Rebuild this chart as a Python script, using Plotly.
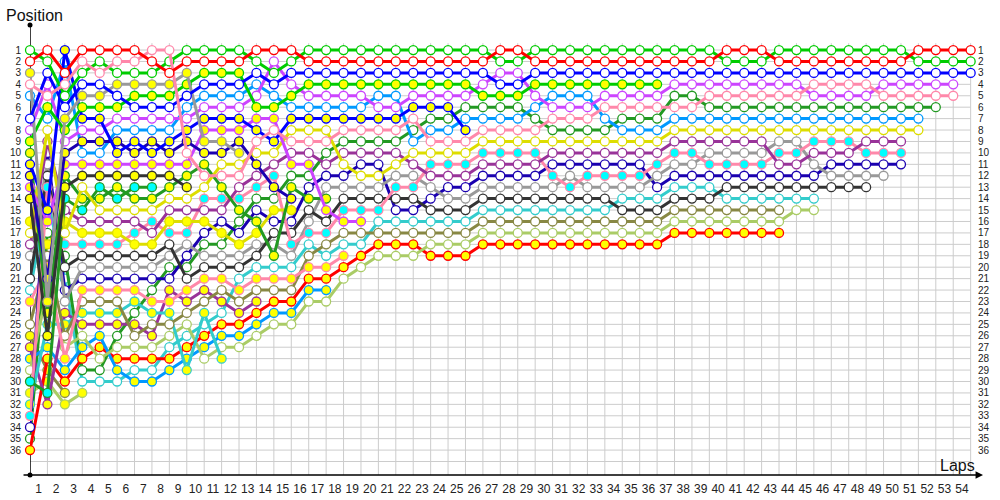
import plotly.graph_objects as go

# ---- driver styling (line colour, marker fill) ----
driver_ids = ["A", "B", "C", "D", "E", "F", "G", "H", "I", "J", "K", "L", "M", "N", "O", "P",
              "Q", "R", "S", "T", "U", "V", "W", "X", "Y", "Z", "AA", "AB", "AC", "AD", "AE", "AF"]
line_color = {
    "A": "#ff0000", "B": "#ff88aa", "C": "#00cc00", "D": "#0000ff", "E": "#999999",
    "F": "#00cc00", "G": "#0000ff", "H": "#cc44ff", "I": "#1a00b0", "J": "#0099ff",
    "K": "#cc44ff", "L": "#333333", "M": "#dddd00", "N": "#229922", "O": "#229922",
    "P": "#993399", "Q": "#dddd00", "R": "#ff88aa", "S": "#333333", "T": "#999999",
    "U": "#1a00b0", "V": "#ff88aa", "W": "#888844", "X": "#33cccc", "Y": "#993399",
    "Z": "#aacc66", "AA": "#0099ff", "AB": "#ff0000", "AC": "#229922", "AD": "#33cccc",
    "AE": "#aacc66", "AF": "#888844",
}
marker_fill = {
    "A": "white", "B": "white", "C": "white", "D": "white", "E": "#ffff00",
    "F": "#ffff00", "G": "#ffff00", "H": "white", "I": "#ffff00", "J": "white",
    "K": "#ffff00", "L": "#ffff00", "M": "white", "N": "#ffff00", "O": "#00ffff",
    "P": "white", "Q": "#ffff00", "R": "#00ffff", "S": "white", "T": "white",
    "U": "white", "V": "#ffff00", "W": "white", "X": "#ffff00", "Y": "#ffff00",
    "Z": "white", "AA": "#ffff00", "AB": "#ffff00", "AC": "white", "AD": "white",
    "AE": "#ffff00", "AF": "#ffff00",
}

# ---- running order per lap (index 0 = grid), "-" = empty grid slot ----
lap_order = [
    "C A E B J - D H F N G I K L - Q M P T - S AD V - W AF Y AA Z O AE X R U AC AB",
    "A C D H B F J M P U T S R AD G K AC Q W V I Z E N X L AA AB AF AE O Y",
    "G J A B C D E F H I K N L O P Q M R AC S AD U T Y X W Z V AA AB AF AE",
    "A B C D E F G H I J K L M N O P Q R S T U V W X Y Z AA AB AC AD AE",
    "A C B D E F G H I J K L O N M P Q R S T U V W X Y AA AB Z AC AD",
    "A B C E D F H J I G K L N O M P Q R S T U V W X Y AC Z AB AA AD",
    "A B C E F D H J G I K L O N M P R Q S T U V X AC Y W Z AB AD AA",
    "B A C E F D H J I G K L O N M R P Q S T U AC V X W Y Z AB AD AA",
    "B C A E F D H J G I K L N M P Q R S T AC U Y V X W Z AD AB AA",
    "C A E F D J H G I B K N L M P Q R T U AC S V Y W Z AD AB AA X",
    "C A F D J H G K E I N B M R P Q U AC T S V Y W X AD AB AA Z",
    "C A F D J H G K E I M B N R P U Q AC T S V W Y AD AB AA Z X",
    "C A F D J H G K I E M B P R N AC U Q T S AD V W Y AB AA Z",
    "A C D J H F K G B M I P R AC U N Q T S AD V W Y AB AA Z",
    "A H C D J F K B G M P R I AC Q U S T N AD V W AB AA Z",
    "A C D H F J G M B P K AC N I Q U S R T AD V W AB AA Z",
    "C A D F H J G M B P K AC U N S T R AD W V AB AA Z",
    "C A D F H J G M B AC P U T N K S R W AD V AB AA Z",
    "C A D F H J G B AC P M U T S R K W AD V AB Z",
    "C A D F H J G B AC P U M T S R K W AD AB Z",
    "C A D F J H G B AC P U M T S R AD W AB Z",
    "C A D F J H G B AC P M T R S U AD W AB Z",
    "C A D F H G B AC J M P T R S U AD W AB Z",
    "C A D F H G AC J B M R P T U S AD W Z AB",
    "C A D F H G AC J B M R P U T S AD W Z AB",
    "C A D F H AC J G B M R P U T S AD W Z AB",
    "C A D H F AC J B M R P U T S AD W Z AB",
    "A C H D F AC J B M R P U T S AD W Z AB",
    "A C H D F AC J B M R P U T S AD W Z AB",
    "C A D F H J AC B M R P U T S AD W Z AB",
    "C A D F J H B AC M P U R T S AD W Z AB",
    "C A D F J H B AC M P U T R S AD W Z AB",
    "C A D F J H B AC M P U R T S AD W Z AB",
    "C A D F H B J AC M P U R T S AD W Z AB",
    "C A D F H B AC J M P U R T AD S W Z AB",
    "C A D F H B AC J M P U R T AD S W Z AB",
    "C A D F H B AC J M P R T U AD S W Z AB",
    "C A D H AC B J M P R T U AD S W Z AB",
    "C A D H AC B J M P R T U AD S W Z AB",
    "C A D H B AC J M P T R U AD S W Z AB",
    "A C D H B AC J M P T R U S AD W Z AB",
    "A C D H B AC J M P T R U S AD W Z AB",
    "A C D H B AC J M P T R U S AD W Z AB",
    "C A D H B AC J M T R P U S AD W Z AB",
    "C A D H B AC J M T R P U S AD Z",
    "C A D B H AC J M R P T U S AD Z",
    "C A D B H AC J M R P U T S",
    "C A D B H AC J M R P U T S",
    "C A D B H AC J M P R U T S",
    "C A D H B AC J M P R U T",
    "C A D H B AC J M P R U",
    "A C D H B AC J M",
    "A C D H B AC",
    "A C D H B",
    "A C D",
]

laps = list(range(len(lap_order)))
lap_labels = [str(k) for k in range(1, 55)]
position_labels = [str(p) for p in range(1, 37)]

# build position series per driver
positions = {d: [None] * len(laps) for d in driver_ids}
for lap, row in enumerate(lap_order):
    for idx, d in enumerate(row.split()):
        if d != "-":
            positions[d][lap] = idx + 1

fig = go.Figure()

# draw back-markers first so leaders sit on top
for d in reversed(driver_ids):
    fig.add_trace(go.Scatter(
        x=laps, y=positions[d], mode="lines+markers",
        line=dict(color=line_color[d], width=3),
        marker=dict(size=9, color=marker_fill[d], line=dict(color=line_color[d], width=1.3)),
        cliponaxis=False, hoverinfo="skip", connectgaps=False,
    ))

X_MAX = 54.25
Y_BOTTOM = 38.18
Y_TOP = -1.19

shapes = []
# grid
for k in range(1, 55):
    shapes.append(dict(type="line", x0=k, x1=k, y0=0.4, y1=Y_BOTTOM, xref="x", yref="y",
                       line=dict(color="#cccccc", width=1), layer="below"))
for p in range(1, 38):
    shapes.append(dict(type="line", x0=0, x1=54, y0=p, y1=p, xref="x", yref="y",
                       line=dict(color="#cccccc", width=1), layer="below"))
# y axis line
shapes.append(dict(type="line", x0=0, x1=0, y0=Y_TOP, y1=Y_BOTTOM, xref="x", yref="y",
                   line=dict(color="black", width=1.5), layer="below"))

annotations = []
# x axis arrow
annotations.append(dict(x=1.0085, y=0, xref="paper", yref="paper", ax=-961, ay=0,
                        axref="pixel", ayref="pixel", text="", showarrow=True,
                        arrowhead=2, arrowsize=1, arrowwidth=1.5, arrowcolor="black"))
annotations.append(dict(x=-0.0275, y=1.022, xref="paper", yref="paper", text="Position",
                        showarrow=False, xanchor="left", yanchor="middle",
                        font=dict(family="Liberation Sans, Arial", size=16, color="#111111")))
annotations.append(dict(x=1.0, y=0.022, xref="paper", yref="paper", text="Laps",
                        showarrow=False, xanchor="right", yanchor="middle", xshift=2,
                        font=dict(family="Liberation Sans, Arial", size=16, color="#111111")))

# axis end dots (also anchors the right-hand position axis)
fig.add_trace(go.Scatter(x=[0, 0], y=[Y_TOP, Y_BOTTOM], mode="markers", yaxis="y2",
                         marker=dict(size=5, color="black"), cliponaxis=False, hoverinfo="skip"))

x_tick_font = dict(family="Liberation Sans, Arial", size=12, color="#222222")
y_tick_font = dict(family="Liberation Sans, Arial", size=10, color="#222222")

fig.update_layout(
    width=1000, height=500,
    margin=dict(l=30, r=25, t=25, b=25, pad=0, autoexpand=False),
    paper_bgcolor="white", plot_bgcolor="white",
    showlegend=False,
    shapes=shapes, annotations=annotations,
    xaxis=dict(range=[0, X_MAX], showgrid=False, zeroline=False, showline=False,
               tickvals=[k - 0.5 for k in range(1, 55)], ticktext=lap_labels,
               tickfont=x_tick_font, ticks="", fixedrange=True, automargin=False,
               ticklabelstandoff=5),
    yaxis=dict(range=[Y_BOTTOM, Y_TOP], showgrid=False, zeroline=False, showline=False,
               tickvals=list(range(1, 37)), ticktext=position_labels,
               tickfont=y_tick_font, ticks="", fixedrange=True, ticklabelstandoff=8,
               automargin=False),
    yaxis2=dict(range=[Y_BOTTOM, Y_TOP], overlaying="y", side="right", showgrid=False,
                zeroline=False, showline=False,
                tickvals=list(range(1, 37)), ticktext=position_labels,
                tickfont=y_tick_font, ticks="", fixedrange=True, ticklabelstandoff=2,
                automargin=False),
)

fig.write_html(
    "out.html",
    config={"displayModeBar": False},
    post_script="document.body.style.margin='0';document.body.style.overflow='hidden';",
)
